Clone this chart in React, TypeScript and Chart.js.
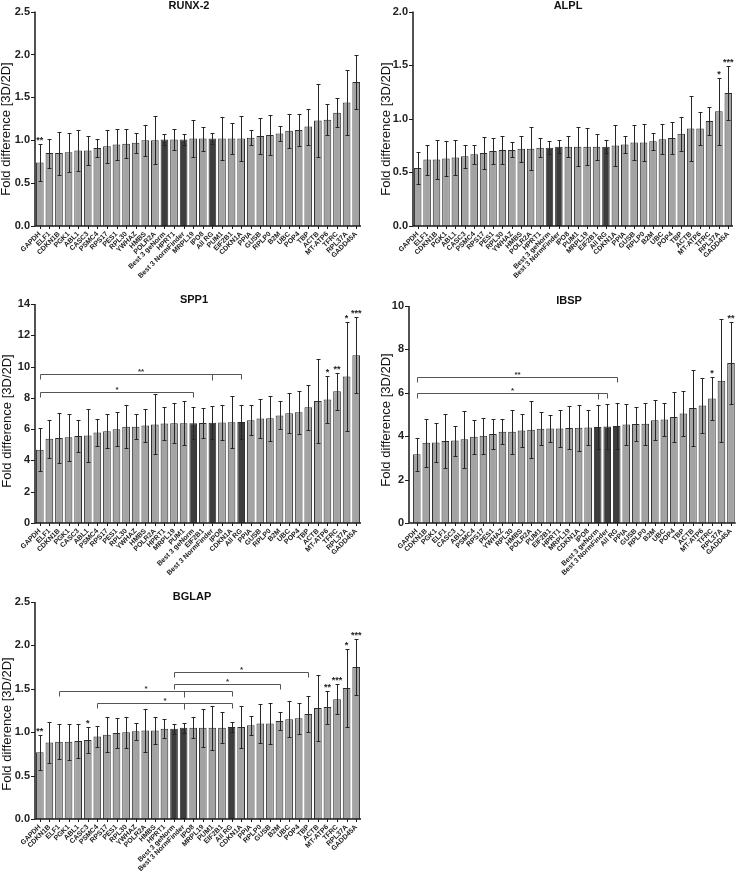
import React, { useEffect, useRef } from "react";
import { Chart, registerables } from "chart.js";

Chart.register(...registerables);

const FONT = "'Liberation Sans', Arial, Helvetica, sans-serif";

type Bracket = { from: string; to: string; ticks: string[]; y: number; text: string };

// ---------------- RUNX-2 ----------------
const runxLabels = ["GAPDH", "ELF1", "CDKN1B", "PGK1", "ABL1", "CASC3", "PSMC4", "RPS17", "PES1", "RPL30", "YWHAZ", "HMBS", "POLR2A", "Best 3 geNorm", "HPRT1", "Best 3 NormFinder", "MRPL19", "IPO8", "All RG", "PUM1", "EIF2B1", "CDKN1A", "PPIA", "GUSB", "RPLP0", "B2M", "UBC", "POP4", "TBP", "ACTB", "MT-ATP6", "TFRC", "RPL37A", "GADD45A"];
const runxMeans = [0.74, 0.85, 0.85, 0.86, 0.88, 0.88, 0.91, 0.93, 0.95, 0.96, 0.97, 1.0, 1.0, 1.01, 1.01, 1.01, 1.02, 1.02, 1.02, 1.02, 1.02, 1.02, 1.03, 1.05, 1.06, 1.08, 1.11, 1.12, 1.16, 1.23, 1.24, 1.32, 1.44, 1.68];
const runxErrors = [0.22, 0.17, 0.25, 0.23, 0.24, 0.17, 0.11, 0.19, 0.18, 0.17, 0.12, 0.18, 0.28, 0.06, 0.12, 0.06, 0.22, 0.14, 0.06, 0.25, 0.18, 0.26, 0.09, 0.21, 0.23, 0.09, 0.2, 0.19, 0.21, 0.42, 0.18, 0.17, 0.38, 0.31];
const runxStars: [string, string][] = [["GAPDH", "**"]];
const runxBrackets: Bracket[] = [];
const runxTicks = [0, 0.5, 1.0, 1.5, 2.0, 2.5];

// ---------------- ALPL ----------------
const alplLabels = ["GAPDH", "ELF1", "CDKN1B", "PGK1", "ABL1", "CASC3", "PSMC4", "RPS17", "PES1", "RPL30", "YWHAZ", "HMBS", "POLR2A", "HPRT1", "Best 3 geNorm", "Best 3 NormFinder", "IPO8", "PUM1", "MRPL19", "EIF2B1", "All RG", "CDKN1A", "PPIA", "GUSB", "RPLP0", "B2M", "UBC", "POP4", "TBP", "ACTB", "MT-ATP6", "TFRC", "RPL37A", "GADD45A"];
const alplMeans = [0.54, 0.62, 0.62, 0.63, 0.64, 0.65, 0.67, 0.68, 0.7, 0.71, 0.71, 0.72, 0.72, 0.73, 0.73, 0.74, 0.74, 0.74, 0.74, 0.74, 0.74, 0.75, 0.76, 0.78, 0.78, 0.79, 0.81, 0.82, 0.86, 0.91, 0.91, 0.98, 1.07, 1.24];
const alplErrors = [0.15, 0.14, 0.18, 0.16, 0.16, 0.11, 0.09, 0.15, 0.12, 0.13, 0.07, 0.12, 0.2, 0.09, 0.06, 0.06, 0.1, 0.18, 0.17, 0.12, 0.06, 0.19, 0.08, 0.16, 0.17, 0.08, 0.14, 0.15, 0.16, 0.3, 0.15, 0.13, 0.31, 0.25];
const alplStars: [string, string][] = [["RPL37A", "*"], ["GADD45A", "***"]];
const alplBrackets: Bracket[] = [];
const alplTicks = [0, 0.5, 1.0, 1.5, 2.0];

// ---------------- SPP1 ----------------
const spp1Labels = ["GAPDH", "ELF1", "CDKN1B", "PGK1", "CASC3", "ABL1", "PSMC4", "RPS17", "PES1", "RPL30", "YWHAZ", "HMBS", "POLR2A", "HPRT1", "MRPL19", "PUM1", "Best 3 geNorm", "EIF2B1", "Best 3 NormFinder", "IPO8", "CDKN1A", "All RG", "PPIA", "GUSB", "RPLP0", "B2M", "UBC", "POP4", "TBP", "ACTB", "MT-ATP6", "TFRC", "RPL37A", "GADD45A"];
const spp1Means = [4.68, 5.38, 5.43, 5.48, 5.56, 5.6, 5.78, 5.87, 6.0, 6.15, 6.15, 6.23, 6.3, 6.36, 6.37, 6.37, 6.38, 6.39, 6.41, 6.42, 6.44, 6.46, 6.57, 6.68, 6.69, 6.88, 7.02, 7.08, 7.4, 7.8, 7.9, 8.42, 9.36, 10.72];
const spp1Errors = [1.37, 1.2, 1.6, 1.5, 1.02, 1.67, 0.85, 1.08, 1.1, 1.37, 0.8, 1.05, 1.92, 1.06, 1.28, 1.41, 1.04, 0.96, 1.05, 1.13, 1.66, 1.06, 0.95, 1.22, 1.46, 0.9, 1.26, 1.39, 1.45, 2.7, 1.48, 1.17, 3.46, 2.43];
const spp1Stars: [string, string][] = [["MT-ATP6", "*"], ["TFRC", "**"], ["RPL37A", "*"], ["GADD45A", "***"]];
const spp1Brackets: Bracket[] = [
  { from: "GAPDH", to: "All RG", ticks: ["Best 3 NormFinder"], y: 9.53, text: "**" },
  { from: "GAPDH", to: "Best 3 geNorm", ticks: [], y: 8.38, text: "*" },
];
const spp1Ticks = [0, 2, 4, 6, 8, 10, 12, 14];

// ---------------- IBSP ----------------
const ibspLabels = ["GAPDH", "CDKN1B", "PGK1", "ELF1", "CASC3", "ABL1", "PSMC4", "RPS17", "PES1", "YWHAZ", "RPL30", "HMBS", "POLR2A", "PUM1", "EIF2B1", "HPRT1", "MRPL19", "CDKN1A", "IPO8", "Best 3 geNorm", "Best 3 NormFinder", "All RG", "PPIA", "GUSB", "RPLP0", "B2M", "UBC", "POP4", "TBP", "ACTB", "MT-ATP6", "TFRC", "RPL37A", "GADD45A"];
const ibspMeans = [3.17, 3.7, 3.71, 3.78, 3.8, 3.86, 3.97, 4.02, 4.1, 4.21, 4.21, 4.26, 4.3, 4.34, 4.36, 4.36, 4.38, 4.39, 4.4, 4.42, 4.45, 4.47, 4.54, 4.56, 4.57, 4.74, 4.77, 4.88, 5.05, 5.3, 5.41, 5.74, 6.55, 7.37];
const ibspErrors = [0.77, 1.1, 0.89, 1.25, 0.69, 1.31, 0.79, 0.83, 0.7, 0.59, 1.01, 0.78, 1.32, 0.76, 0.62, 0.87, 0.99, 1.06, 0.82, 1.03, 1.03, 1.05, 0.94, 0.79, 0.97, 0.93, 0.77, 1.16, 1.04, 1.75, 1.27, 1.0, 2.83, 1.9];
const ibspStars: [string, string][] = [["TFRC", "*"], ["GADD45A", "**"]];
const ibspBrackets: Bracket[] = [
  { from: "GAPDH", to: "All RG", ticks: [], y: 6.74, text: "**" },
  { from: "GAPDH", to: "Best 3 NormFinder", ticks: ["Best 3 geNorm"], y: 5.98, text: "*" },
];
const ibspTicks = [0, 2, 4, 6, 8, 10];

// ---------------- BGLAP ----------------
const bglapLabels = ["GAPDH", "CDKN1B", "ELF1", "PGK1", "ABL1", "CASC3", "PSMC4", "RPS17", "PES1", "RPL30", "YWHAZ", "POLR2A", "HMBS", "HPRT1", "Best 3 geNorm", "Best 3 NormFinder", "IPO8", "MRPL19", "PUM1", "EIF2B1", "All RG", "CDKN1A", "PPIA", "RPLP0", "GUSB", "B2M", "UBC", "POP4", "TBP", "ACTB", "MT-ATP6", "TFRC", "RPL37A", "GADD45A"];
const bglapMeans = [0.77, 0.88, 0.89, 0.89, 0.9, 0.91, 0.95, 0.97, 0.99, 1.0, 1.01, 1.02, 1.02, 1.04, 1.04, 1.05, 1.05, 1.05, 1.05, 1.05, 1.06, 1.06, 1.08, 1.1, 1.1, 1.13, 1.15, 1.16, 1.21, 1.28, 1.29, 1.38, 1.51, 1.75];
const bglapErrors = [0.2, 0.24, 0.2, 0.21, 0.2, 0.15, 0.12, 0.2, 0.17, 0.18, 0.1, 0.25, 0.16, 0.11, 0.06, 0.06, 0.12, 0.22, 0.25, 0.18, 0.06, 0.24, 0.11, 0.23, 0.24, 0.1, 0.21, 0.18, 0.21, 0.38, 0.19, 0.17, 0.45, 0.32];
const bglapStars: [string, string][] = [["GAPDH", "**"], ["CASC3", "*"], ["MT-ATP6", "**"], ["TFRC", "***"], ["RPL37A", "*"], ["GADD45A", "***"]];
const bglapBrackets: Bracket[] = [
  { from: "Best 3 geNorm", to: "TBP", ticks: [], y: 1.69, text: "*" },
  { from: "Best 3 geNorm", to: "B2M", ticks: [], y: 1.56, text: "*" },
  { from: "ELF1", to: "All RG", ticks: ["Best 3 NormFinder"], y: 1.47, text: "*" },
  { from: "PSMC4", to: "All RG", ticks: ["Best 3 NormFinder"], y: 1.34, text: "*" },
];
const bglapTicks = [0, 0.5, 1.0, 1.5, 2.0, 2.5];

const yAxisTitle = "Fold difference [3D/2D]";

interface PanelCfg {
  title: string;
  labels: string[];
  means: number[];
  errors: number[];
  stars: [string, string][];
  brackets: Bracket[];
  ticks: number[];
  decimals: number;
  left: number;
  top: number;
  width: number;
  height: number;
  area: { l: number; r: number; t: number; b: number };
  gap: number;
  titlePos: [number, number];
  yTitlePos: [number, number];
}

const panels: PanelCfg[] = [
  {
    title: "RUNX-2", labels: runxLabels, means: runxMeans, errors: runxErrors, stars: runxStars, brackets: runxBrackets,
    ticks: runxTicks, decimals: 1, left: 0, top: 0, width: 370, height: 290,
    area: { l: 35, r: 361, t: 9, b: 226 }, gap: 0, titlePos: [189, 6], yTitlePos: [6, 129],
  },
  {
    title: "ALPL", labels: alplLabels, means: alplMeans, errors: alplErrors, stars: alplStars, brackets: alplBrackets,
    ticks: alplTicks, decimals: 1, left: 370, top: 0, width: 371, height: 290,
    area: { l: 43, r: 363, t: 9, b: 226 }, gap: 0, titlePos: [198, 6], yTitlePos: [16, 129],
  },
  {
    title: "SPP1", labels: spp1Labels, means: spp1Means, errors: spp1Errors, stars: spp1Stars, brackets: spp1Brackets,
    ticks: spp1Ticks, decimals: 0, left: 0, top: 290, width: 370, height: 290,
    area: { l: 35, r: 361, t: 14, b: 233 }, gap: 0, titlePos: [194, 10], yTitlePos: [7, 131],
  },
  {
    title: "IBSP", labels: ibspLabels, means: ibspMeans, errors: ibspErrors, stars: ibspStars, brackets: ibspBrackets,
    ticks: ibspTicks, decimals: 0, left: 370, top: 290, width: 371, height: 290,
    area: { l: 42, r: 366, t: 16, b: 233 }, gap: 3, titlePos: [199, 11], yTitlePos: [16, 130],
  },
  {
    title: "BGLAP", labels: bglapLabels, means: bglapMeans, errors: bglapErrors, stars: bglapStars, brackets: bglapBrackets,
    ticks: bglapTicks, decimals: 1, left: 0, top: 580, width: 370, height: 291,
    area: { l: 35, r: 361, t: 22, b: 239 }, gap: 0, titlePos: [192, 17], yTitlePos: [7, 144],
  },
];

const isDark = (l: string) => l.startsWith("Best 3") || l === "All RG";

function Panel({ cfg }: { cfg: PanelCfg }) {
  const ref = useRef<HTMLCanvasElement | null>(null);

  useEffect(() => {
    const canvas = ref.current;
    if (!canvas) return;
    const { area, gap } = cfg;
    const yMax = cfg.ticks[cfg.ticks.length - 1];

    const decor = {
      id: "decor",
      afterDatasetsDraw(chart: any) {
        const ctx = chart.ctx as CanvasRenderingContext2D;
        const ys = chart.scales.y;
        const meta = chart.getDatasetMeta(0);
        ctx.save();
        ctx.strokeStyle = "#262626";
        ctx.lineWidth = 1;
        cfg.means.forEach((m, i) => {
          const x = Math.round(meta.data[i].x) + 0.5;
          const yt = Math.round(ys.getPixelForValue(m + cfg.errors[i])) + 0.5;
          const yb = Math.round(ys.getPixelForValue(m - cfg.errors[i])) + 0.5;
          ctx.beginPath();
          ctx.moveTo(x, yt);
          ctx.lineTo(x, yb);
          ctx.moveTo(x - 2, yt);
          ctx.lineTo(x + 2, yt);
          ctx.moveTo(x - 2, yb);
          ctx.lineTo(x + 2, yb);
          ctx.stroke();
        });
        ctx.restore();
      },
      afterDraw(chart: any) {
        const ctx = chart.ctx as CanvasRenderingContext2D;
        const ys = chart.scales.y;
        const meta = chart.getDatasetMeta(0);
        const ca = chart.chartArea;
        const axisX = ca.left - gap;
        const xOf = (label: string) => meta.data[cfg.labels.indexOf(label)].x;
        ctx.save();
        // axes
        ctx.strokeStyle = "#1a1a1a";
        ctx.lineWidth = 1.5;
        ctx.beginPath();
        ctx.moveTo(axisX, ca.top);
        ctx.lineTo(axisX, ca.bottom);
        ctx.lineTo(ca.right, ca.bottom);
        ctx.stroke();
        ctx.lineWidth = 1;
        ctx.beginPath();
        cfg.ticks.forEach((v) => {
          const y = Math.round(ys.getPixelForValue(v)) + 0.5;
          ctx.moveTo(axisX - 4, y);
          ctx.lineTo(axisX, y);
        });
        meta.data.forEach((el: any) => {
          const x = Math.round(el.x) + 0.5;
          ctx.moveTo(x, ca.bottom);
          ctx.lineTo(x, ca.bottom + 3);
        });
        ctx.stroke();

        // brackets
        ctx.strokeStyle = "#555";
        ctx.fillStyle = "#333";
        ctx.lineWidth = 1;
        ctx.font = `bold 8px ${FONT}`;
        ctx.textAlign = "center";
        ctx.textBaseline = "alphabetic";
        cfg.brackets.forEach((br) => {
          const x1 = Math.round(xOf(br.from)) + 0.5;
          const x2 = Math.round(xOf(br.to)) + 0.5;
          const y = Math.round(ys.getPixelForValue(br.y)) + 0.5;
          ctx.beginPath();
          ctx.moveTo(x1, y + 5);
          ctx.lineTo(x1, y);
          ctx.lineTo(x2, y);
          ctx.lineTo(x2, y + 5);
          br.ticks.forEach((t) => {
            const xt = Math.round(xOf(t)) + 0.5;
            ctx.moveTo(xt, y);
            ctx.lineTo(xt, y + 6);
          });
          ctx.stroke();
          ctx.fillText(br.text, (x1 + x2) / 2, y - 1);
        });

        // significance stars
        ctx.fillStyle = "#222";
        ctx.font = `bold 9px ${FONT}`;
        cfg.stars.forEach(([label, text]) => {
          const i = cfg.labels.indexOf(label);
          const yt = ys.getPixelForValue(cfg.means[i] + cfg.errors[i]);
          ctx.fillText(text, meta.data[i].x, yt - 1);
        });

        // title
        ctx.fillStyle = "#111";
        ctx.font = `bold 11px ${FONT}`;
        ctx.textBaseline = "middle";
        ctx.fillText(cfg.title, cfg.titlePos[0], cfg.titlePos[1]);

        // y-axis title
        ctx.font = `13px ${FONT}`;
        ctx.translate(cfg.yTitlePos[0], cfg.yTitlePos[1]);
        ctx.rotate(-Math.PI / 2);
        ctx.fillText(yAxisTitle, 0, 0);
        ctx.restore();
      },
    };

    const chart = new Chart(canvas, {
      type: "bar",
      data: {
        labels: cfg.labels,
        datasets: [
          {
            data: cfg.means,
            backgroundColor: cfg.labels.map((l) => (isDark(l) ? "#3d3d3d" : "#a3a3a3")),
            borderColor: "#2e2e2e",
            borderWidth: 1,
            categoryPercentage: 1,
            barPercentage: 0.8,
          },
        ],
      },
      options: {
        responsive: false,
        animation: false,
        layout: { padding: { left: 0, top: area.t, right: cfg.width - area.r, bottom: 0 } },
        plugins: { legend: { display: false }, tooltip: { enabled: false }, title: { display: false } },
        scales: {
          x: {
            grid: { display: false, drawTicks: false },
            border: { display: false },
            ticks: {
              autoSkip: false,
              maxRotation: 45,
              minRotation: 45,
              padding: 4,
              color: "#222",
              font: { family: FONT, size: 7, weight: "bold" },
            },
            afterFit: (s: any) => {
              s.height = cfg.height - area.b;
            },
          },
          y: {
            min: 0,
            max: yMax,
            grid: { display: false, drawTicks: false },
            border: { display: false },
            afterBuildTicks: (s: any) => {
              s.ticks = cfg.ticks.map((v) => ({ value: v }));
            },
            ticks: {
              padding: gap + 5,
              color: "#222",
              font: { family: FONT, size: 11, weight: "bold" },
              callback: (v: any) => Number(v).toFixed(cfg.decimals),
            },
            afterFit: (s: any) => {
              s.width = area.l;
            },
          },
        },
      },
      plugins: [decor],
    } as any);

    return () => chart.destroy();
  }, [cfg]);

  return (
    <canvas
      ref={ref}
      width={cfg.width}
      height={cfg.height}
      style={{ position: "absolute", left: cfg.left, top: cfg.top, width: cfg.width, height: cfg.height }}
    />
  );
}

export default function App() {
  return (
    <div style={{ position: "absolute", left: 0, top: 0, width: 741, height: 871, background: "#fff", overflow: "hidden" }}>
      {panels.map((p) => (
        <Panel key={p.title} cfg={p} />
      ))}
    </div>
  );
}
